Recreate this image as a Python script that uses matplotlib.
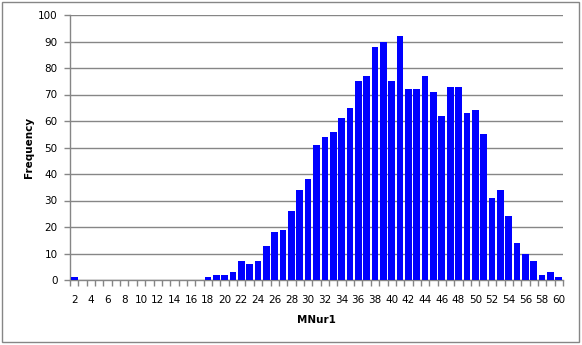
import numpy as np
import matplotlib
matplotlib.use("Agg")
from matplotlib import pyplot as plt
from matplotlib.patches import Rectangle

# histogram of MNur1
categories = np.arange(2, 61)
frequency = [1, 0, 0, 0, 0, 0, 0, 0, 0, 0, 0, 0, 0, 0, 0, 0,
             1, 2, 2, 3, 7, 6, 7, 13, 18, 19, 26, 34, 38, 51,
             54, 56, 61, 65, 75, 77, 88, 90, 75, 92, 72, 72, 77, 71,
             62, 73, 73, 63, 64, 55, 31, 34, 24, 14, 10, 7, 2, 3, 1]
xtick_labels = [str(v) for v in range(2, 61, 2)]
yticks = np.arange(0, 101, 10)

plt.rcParams['font.family'] = ['DejaVu Sans']

fig = plt.figure(figsize=(5.82, 3.45), dpi=100)
ax = fig.add_axes([70/582, 65/345, 493/582, 265/345])

ax.bar(categories, frequency, width=0.8, color='#0000FF', zorder=3)

# axis limits and ticks
ax.set_xlim(1.5, 60.5)
ax.set_ylim(0, 100)
ax.set_yticks(yticks)
ax.set_xticks(np.arange(2, 61, 2))
ax.set_xticklabels(xtick_labels)
ax.set_xticks(np.arange(1.5, 61, 1.0), minor=True)
ax.tick_params(axis='x', which='major', length=0, labelsize=7.5, pad=11)
ax.tick_params(axis='x', which='minor', length=4, color='#868686', width=1)
ax.tick_params(axis='y', length=4, color='#868686', width=1, labelsize=7.5, pad=5)

# grid
ax.grid(axis='y', color='#868686', linewidth=1, zorder=0)
for s in ['top', 'right']:
    ax.spines[s].set_visible(False)
for s in ['left', 'bottom']:
    ax.spines[s].set_color('#868686')
    ax.spines[s].set_linewidth(1)

ax.set_xlabel('MNur1', fontsize=7.5, fontweight='bold', labelpad=7)
ax.set_ylabel('Frequency', fontsize=7.5, fontweight='bold', labelpad=3)

# outer chart border
fig.patches.append(Rectangle((1.5/582, 3/345), 577.5/582, 340/345, transform=fig.transFigure,
                             fill=False, edgecolor='#868686', linewidth=1))

plt.savefig('out.png', dpi=100)
